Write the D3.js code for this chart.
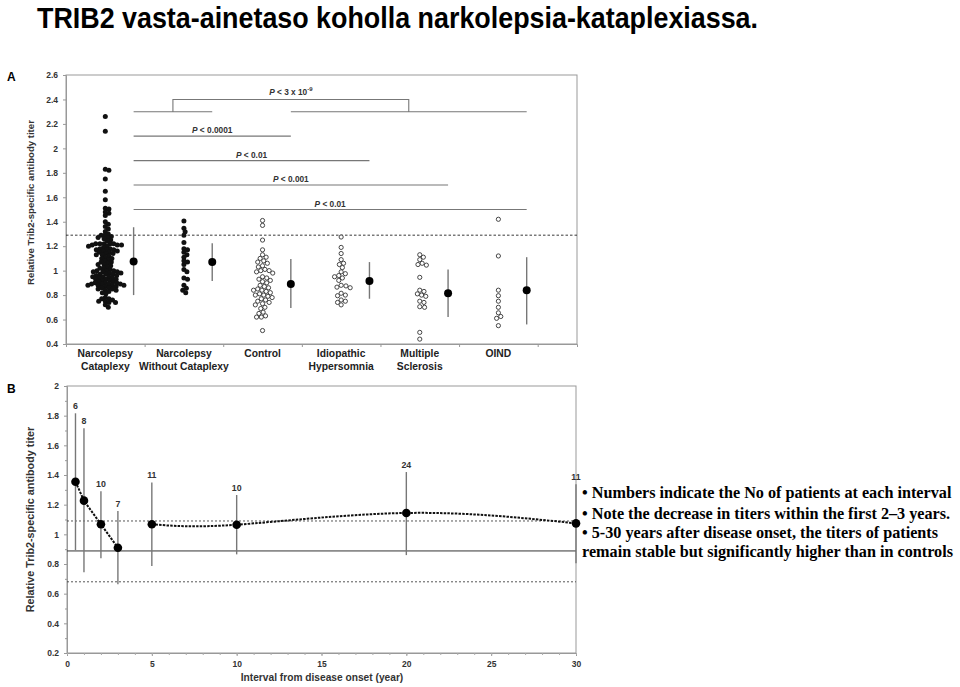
<!DOCTYPE html>
<html><head><meta charset="utf-8">
<script src="https://cdn.jsdelivr.net/npm/d3@7/dist/d3.min.js"></script>
<style>body{margin:0;background:#fff;} svg{display:block;}</style>
</head><body>
<svg id="c" width="960" height="687"></svg>
<script>
// ---------- DATA ----------
const title = "TRIB2 vasta-ainetaso koholla narkolepsia-kataplexiassa.";
const catLine1 = ["Narcolepsy", "Narcolepsy", "Control", "Idiopathic", "Multiple", "OIND"];
const catLine2 = ["Cataplexy", "Without Cataplexy", "", "Hypersomnia", "Sclerosis", ""];
const filled = [true, true, false, false, false, false];
const ncValues = [2.26,2.14,1.83,1.82,1.75,1.65,1.58,1.51,1.505,1.48,1.47,1.45,1.40,1.38,1.36,1.34,1.32,1.30,
  1.29,1.29,1.28,1.27,1.27,1.26,1.25,1.24,1.22,1.22,1.22,1.22,1.22,1.21,1.21,1.21,1.20,1.20,1.19,1.18,1.18,
  1.17,1.17,1.17,1.16,1.16,1.15,1.15,1.14,1.14,1.13,1.13,1.12,1.11,1.10,1.10,1.09,1.08,1.07,1.07,1.06,1.05,
  1.05,1.04,1.03,1.02,1.02,1.01,1.00,1.00,1.00,0.99,0.99,0.99,0.98,0.98,0.97,0.97,0.97,0.96,0.96,0.95,0.95,
  0.95,0.94,0.94,0.93,0.93,0.93,0.92,0.92,0.91,0.91,0.90,0.90,0.90,0.89,0.89,0.89,0.89,0.88,0.88,0.88,0.88,
  0.87,0.87,0.86,0.86,0.85,0.85,0.84,0.84,0.83,0.82,0.81,0.78,0.77,0.77,0.76,0.75,0.75,0.74,0.74,0.72,0.70];
const nwcValues = [1.405,1.346,1.318,1.29,1.23,1.18,1.17,1.15,1.13,1.11,1.08,1.07,1.05,1.01,0.99,0.94,0.93,0.88,0.855,0.84,0.82];
const ctrlValues = [1.41,1.37,1.25,1.17,1.13,1.11,1.10,1.08,1.07,1.06,1.04,1.03,1.01,1.00,1.00,0.99,0.98,0.95,0.94,
  0.93,0.92,0.91,0.90,0.88,0.87,0.86,0.85,0.84,0.84,0.83,0.82,0.81,0.80,0.80,0.79,0.78,0.77,0.76,0.75,0.74,
  0.73,0.72,0.70,0.69,0.66,0.65,0.63,0.62,0.62,0.51];
const ihValues = [1.275,1.19,1.14,1.09,1.06,1.05,1.025,0.99,0.975,0.96,0.95,0.94,0.92,0.88,0.875,0.865,0.86,
  0.815,0.80,0.795,0.76,0.75,0.74,0.72];
const msValues = [1.13,1.11,1.09,1.06,1.05,1.045,0.945,0.84,0.83,0.81,0.80,0.79,0.75,0.74,0.705,0.70,0.495,0.44];
const oindValues = [1.42,1.12,0.84,0.795,0.75,0.70,0.655,0.625,0.61,0.55];
const groupValues = [ncValues, nwcValues, ctrlValues, ihValues, msValues, oindValues];
const groupMean = [1.075, 1.07, 0.89, 0.915, 0.815, 0.84];
const groupHigh = [1.355, 1.225, 1.095, 1.07, 1.01, 1.11];
const groupLow  = [0.80, 0.915, 0.695, 0.77, 0.62, 0.56];
const cutoffA = 1.29;
// comparisons: from group mean to group mean, level, label
const compLevels = [2.1, 1.9, 1.7, 1.5];
const compTo = [2, 3, 4, 5];
const compLabels = ["0.0001", "0.01", "0.001", "0.01"];
const bracketLevel = 2.3, bracketTop = 2.4;
const yTicksA = [0.4,0.6,0.8,1,1.2,1.4,1.6,1.8,2,2.2,2.4,2.6];

const years = [0.5, 1, 2, 3, 5, 10, 20, 30];
const meansB = [1.355, 1.227, 1.068, 0.91, 1.068, 1.065, 1.144, 1.074];
const highB = [1.816, 1.715, 1.29, 1.157, 1.35, 1.265, 1.42, 1.337];
const lowB  = [0.894, 0.744, 0.838, 0.663, 0.787, 0.865, 0.86, 0.805];
const nPatients = [6, 8, 10, 7, 11, 10, 24, 11];
const ctrlMeanB = 0.888, ctrlHighB = 1.09, ctrlLowB = 0.68;
const yTicksB = [0.2,0.4,0.6,0.8,1,1.2,1.4,1.6,1.8,2];
const xTicksB = [0,5,10,15,20,25,30];

const notes = ["• Numbers indicate the No of patients at each interval",
  "• Note the decrease in titers within the first 2–3 years.",
  "• 5-30 years after disease onset, the titers of patients",
  "remain stable but significantly higher than in controls"];

// ---------- DRAW ----------
const svg = d3.select("#c");
const AX = "Liberation Sans, Arial, sans-serif";

svg.append("text").attr("x", 37).attr("y", 28).attr("font-family", AX).attr("font-weight", "bold")
  .attr("font-size", 30).attr("textLength", 721).attr("lengthAdjust", "spacingAndGlyphs").text(title);

// ===== Panel A =====
const xA = d3.scaleLinear().domain([0, 6.5]).range([66, 577]);
const yA = d3.scaleLinear().domain([0.4, 2.6]).range([344, 75]);
const gA = svg.append("g");
gA.append("rect").attr("x", xA(0)).attr("y", yA(2.6)).attr("width", xA(6.5)-xA(0)).attr("height", yA(0.4)-yA(2.6))
  .attr("fill", "none").attr("stroke", "#999").attr("stroke-width", 1);
const axYA = d3.axisLeft(yA).tickValues(yTicksA).tickSize(3).tickFormat(d3.format(""));
const gyA = gA.append("g").attr("transform", `translate(${xA(0)},0)`).call(axYA);
gyA.select(".domain").attr("stroke", "#999");
gyA.selectAll(".tick line").attr("stroke", "#999");
gyA.selectAll("text").attr("font-family", AX).attr("font-weight", "bold").attr("font-size", 8.5).attr("fill", "#333").attr("dx", -2);
const gxA = gA.append("g").attr("transform", `translate(0,${yA(0.4)})`)
  .call(d3.axisBottom(xA).tickValues([0,1,2,3,4,5,6]).tickSize(3).tickFormat(""));
gxA.select(".domain").attr("stroke", "#999");
gxA.selectAll(".tick line").attr("stroke", "#999");

gA.append("text").attr("transform", `translate(34,${(yA(0.4)+yA(2.6))/2 - 7}) rotate(-90)`).attr("text-anchor", "middle")
  .attr("font-family", AX).attr("font-weight", "bold").attr("font-size", 9.6).attr("fill", "#333")
  .text("Relative Trib2-specific antibody titer");
svg.append("text").attr("x", 7).attr("y", 81).attr("font-family", AX).attr("font-weight", "bold").attr("font-size", 12).text("A");
svg.append("text").attr("x", 7).attr("y", 393).attr("font-family", AX).attr("font-weight", "bold").attr("font-size", 12).text("B");

// category labels
catLine1.forEach((t, i) => {
  const tx = gA.append("text").attr("x", xA(i + 0.5)).attr("y", 357).attr("text-anchor", "middle")
    .attr("font-family", AX).attr("font-weight", "bold").attr("font-size", 10.3).attr("fill", "#222");
  tx.append("tspan").attr("x", xA(i + 0.5)).text(t);
  if (catLine2[i]) tx.append("tspan").attr("x", xA(i + 0.5)).attr("dy", 13).text(catLine2[i]);
});

// cutoff
gA.append("line").attr("x1", xA(0)).attr("x2", xA(6.5)).attr("y1", yA(cutoffA)).attr("y2", yA(cutoffA))
  .attr("stroke", "#222").attr("stroke-width", 0.9).attr("stroke-dasharray", "2.5,2");

// beeswarm
function dodge(vals, r, cx, tight) {
  const pts = [];
  vals.slice().sort((a, b) => b - a).forEach(v => {
    const y = yA(v);
    let best = null;
    for (let k = 0; k < 80 && best === null; k++) {
      for (const s of (k === 0 ? [0] : [k, -k])) {
        const x = cx + s * 0.6;
        if (pts.every(p => (p.x - x) ** 2 + (p.y - y) ** 2 >= (2 * r * tight) ** 2)) { best = x; break; }
      }
    }
    pts.push({ x: best, y, v });
  });
  return pts;
}
const meanOff = 0.36;
groupValues.forEach((vals, i) => {
  const r = 2.5;
  const pts = dodge(vals, r, xA(i + 0.5), filled[i] ? 0.72 : 0.85);
  gA.append("g").selectAll("circle").data(pts).join("circle")
    .attr("cx", d => d.x).attr("cy", d => d.y).attr("r", filled[i] ? r : r - 0.4)
    .attr("fill", filled[i] ? "#111" : "#fff").attr("stroke", filled[i] ? "none" : "#333").attr("stroke-width", 0.9);
  const mx = xA(i + 0.5 + meanOff);
  gA.append("line").attr("x1", mx).attr("x2", mx).attr("y1", yA(groupHigh[i])).attr("y2", yA(groupLow[i]))
    .attr("stroke", "#777").attr("stroke-width", 1.4);
  gA.append("circle").attr("cx", mx).attr("cy", yA(groupMean[i])).attr("r", 4).attr("fill", "#000");
});

// comparisons
const mxA = i => xA(i + 0.5 + meanOff);
const lineCol = "#777";
function pLabel(x, y, num, sup) {
  const t = gA.append("text").attr("x", x).attr("y", y).attr("text-anchor", "middle")
    .attr("font-family", AX).attr("font-weight", "bold").attr("font-size", 8.3).attr("fill", "#333");
  t.append("tspan").attr("font-style", "italic").text("P");
  t.append("tspan").text(" < " + num);
  if (sup) t.append("tspan").attr("font-size", 6).attr("dy", -4).text(sup);
}
compLevels.forEach((lv, k) => {
  gA.append("line").attr("x1", mxA(0)).attr("x2", mxA(compTo[k])).attr("y1", yA(lv)).attr("y2", yA(lv))
    .attr("stroke", lineCol).attr("stroke-width", 1.1);
  pLabel((mxA(0) + mxA(compTo[k])) / 2, yA(lv) - 3, compLabels[k]);
});
const bL = (mxA(0) + mxA(1)) / 2, bR = (mxA(2) + mxA(5)) / 2;
gA.append("path").attr("fill", "none").attr("stroke", lineCol).attr("stroke-width", 1.1)
  .attr("d", `M${mxA(0)},${yA(bracketLevel)}H${mxA(1)}M${bL},${yA(bracketLevel)}V${yA(bracketTop)}H${bR}V${yA(bracketLevel)}M${mxA(2)},${yA(bracketLevel)}H${mxA(5)}`);
pLabel((bL + bR) / 2, yA(bracketTop) - 4, "3 x 10", "-9");

// ===== Panel B =====
const xB = d3.scaleLinear().domain([0, 30]).range([67, 576]);
const yB = d3.scaleLinear().domain([0.2, 2.0]).range([653, 386]);
const gB = svg.append("g");
gB.append("rect").attr("x", xB(0)).attr("y", yB(2)).attr("width", xB(30)-xB(0)).attr("height", yB(0.2)-yB(2))
  .attr("fill", "none").attr("stroke", "#999");
const gyB = gB.append("g").attr("transform", `translate(${xB(0)},0)`)
  .call(d3.axisLeft(yB).tickValues(yTicksB).tickSize(3).tickFormat(d3.format("")));
gyB.select(".domain").attr("stroke", "#999");
gyB.selectAll(".tick line").attr("stroke", "#999");
gyB.selectAll("text").attr("font-family", AX).attr("font-weight", "bold").attr("font-size", 8.5).attr("fill", "#333").attr("dx", -2);
gB.append("g").attr("transform", `translate(${xB(0)},0)`)
  .call(d3.axisLeft(yB).tickValues(d3.range(0.3, 2.0, 0.2)).tickSize(2).tickFormat(""))
  .call(g => { g.select(".domain").remove(); g.selectAll("line").attr("stroke", "#999"); });
const gxB = gB.append("g").attr("transform", `translate(0,${yB(0.2)})`)
  .call(d3.axisBottom(xB).tickValues(xTicksB).tickSize(3).tickFormat(d3.format("")));
gxB.select(".domain").attr("stroke", "#999");
gxB.selectAll(".tick line").attr("stroke", "#999");
gxB.selectAll("text").attr("font-family", AX).attr("font-weight", "bold").attr("font-size", 8.5).attr("fill", "#333").attr("dy", "0.9em");
gB.append("g").attr("transform", `translate(0,${yB(0.2)})`)
  .call(d3.axisBottom(xB).tickValues(d3.range(0, 31)).tickSize(2).tickFormat(""))
  .call(g => { g.select(".domain").remove(); g.selectAll("line").attr("stroke", "#aaa"); });

gB.append("text").attr("transform", `translate(34,${(yB(0.2)+yB(2))/2}) rotate(-90)`).attr("text-anchor", "middle")
  .attr("font-family", AX).attr("font-weight", "bold").attr("font-size", 10.8).attr("fill", "#333")
  .text("Relative Trib2-specific antibody titer");
gB.append("text").attr("x", 322).attr("y", 681).attr("text-anchor", "middle")
  .attr("font-family", AX).attr("font-weight", "bold").attr("font-size", 10.2).attr("fill", "#333")
  .text("Interval from disease onset (year)");

// control reference lines
[[ctrlHighB, "2,2"], [ctrlLowB, "2,2"], [ctrlMeanB, null]].forEach(([v, dash]) => {
  const l = gB.append("line").attr("x1", xB(0)).attr("x2", xB(30)).attr("y1", yB(v)).attr("y2", yB(v))
    .attr("stroke", dash ? "#444" : "#333").attr("stroke-width", dash ? 0.9 : 1);
  if (dash) l.attr("stroke-dasharray", dash);
});

// error bars
years.forEach((yr, i) => {
  gB.append("line").attr("x1", xB(yr)).attr("x2", xB(yr)).attr("y1", yB(highB[i])).attr("y2", yB(lowB[i]))
    .attr("stroke", "#777").attr("stroke-width", 1.4);
  gB.append("text").attr("x", xB(yr)).attr("y", yB(highB[i]) - 4.5).attr("text-anchor", "middle")
    .attr("font-family", AX).attr("font-weight", "bold").attr("font-size", 8.8).attr("fill", "#333").text(nPatients[i]);
});
// connecting dashed lines
const pts = years.map((yr, i) => [xB(yr), yB(meansB[i])]);
gB.append("path").attr("d", d3.line()(pts.slice(0, 4))).attr("fill", "none").attr("stroke", "#111")
  .attr("stroke-width", 2).attr("stroke-dasharray", "2.5,1.2");
gB.append("path").attr("d", d3.line().curve(d3.curveNatural)(pts.slice(4))).attr("fill", "none").attr("stroke", "#111")
  .attr("stroke-width", 2).attr("stroke-dasharray", "2.5,1.2");
gB.selectAll("circle.m").data(pts).join("circle").attr("class", "m")
  .attr("cx", d => d[0]).attr("cy", d => d[1]).attr("r", 4.3).attr("fill", "#000");

// notes
const noteY = [498, 519, 538, 557];
notes.forEach((t, i) => {
  svg.append("text").attr("x", 582).attr("y", noteY[i]).attr("font-family", "Liberation Serif, Times New Roman, serif")
    .attr("font-weight", "bold").attr("font-size", 16.2).attr("fill", "#000").text(t);
});
</script>
</body></html>
